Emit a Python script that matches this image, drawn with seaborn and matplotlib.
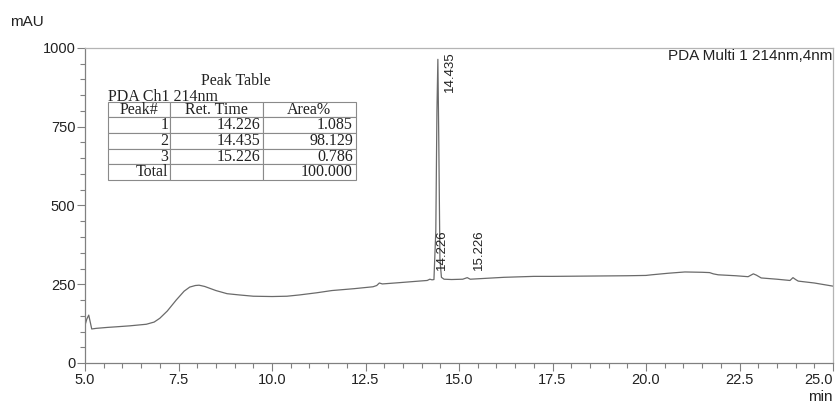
import matplotlib
matplotlib.use("Agg")
import matplotlib.pyplot as plt
import numpy as np
import pandas as pd
import seaborn as sns
from matplotlib.ticker import MultipleLocator

# chromatogram trace (min, mAU)
time_min = [
    5.00, 5.05, 5.10, 5.18, 5.30, 5.60, 5.85, 6.20, 6.64, 6.85, 7.00, 7.20,
    7.44, 7.65, 7.80, 7.95, 8.05, 8.20, 8.50, 8.80, 9.13, 9.50, 10.00, 10.40,
    10.73, 11.20, 11.60, 12.20, 12.70, 12.80, 12.87, 12.95, 13.40, 13.93,
    14.15, 14.22, 14.28, 14.33, 14.38, 14.41, 14.435, 14.46, 14.49, 14.53,
    14.60, 14.80, 15.10, 15.22, 15.30, 15.60, 16.20, 17.00, 17.50, 18.50,
    19.50, 20.00, 20.15, 20.60, 21.04, 21.50, 21.70, 21.80, 21.93, 22.40,
    22.73, 22.87, 22.95, 23.08, 23.50, 23.85, 23.93, 24.00, 24.07, 24.50, 25.00,
]
signal_mau = [
    120, 140, 152, 108, 110, 113, 115, 118, 123, 130, 142, 165,
    200, 228, 241, 246, 247, 243, 230, 220, 216, 212, 211, 212,
    216, 223, 230, 236, 242, 246, 254, 251, 255, 260,
    262, 266, 264, 265, 420, 800, 964, 700, 330, 272,
    266, 265, 266, 271, 266, 268, 272, 275, 275, 276,
    277, 278, 280, 285, 289, 288, 287, 283, 280, 277,
    274, 283, 279, 270, 266, 262, 271, 265, 260, 254, 244,
]

x_ticks = [5.0, 7.5, 10.0, 12.5, 15.0, 17.5, 20.0, 22.5, 25.0]
x_labels = ["5.0", "7.5", "10.0", "12.5", "15.0", "17.5", "20.0", "22.5", "25.0"]
y_ticks = [0, 250, 500, 750, 1000]

peak_times = ["14.226", "14.435", "15.226"]
peak_areas = ["1.085", "98.129", "0.786"]
total_area = "100.000"
# where the retention-time labels sit (min, mAU of their lower end)
label_x = [14.54, 14.76, 15.54]
label_y = [295, 860, 295]

sns.set_style("ticks")
plt.rcParams["font.family"] = ["Liberation Sans", "DejaVu Sans"]

fig = plt.figure(figsize=(8.37, 4.03), dpi=100)
ax = fig.add_axes([85 / 837, 40 / 403, 748 / 837, 315 / 403])

trace = pd.DataFrame({"time": time_min, "mAU": signal_mau})
sns.lineplot(data=trace, x="time", y="mAU", ax=ax, color="#6a6a6a",
             linewidth=0.9, estimator=None, sort=False)

ax.set_xlim(5.0, 25.0)
ax.set_ylim(0, 1000)
ax.set_xticks(x_ticks, x_labels)
ax.set_yticks(y_ticks)
ax.xaxis.set_minor_locator(MultipleLocator(0.5))
ax.yaxis.set_minor_locator(MultipleLocator(50))
ax.tick_params(which="major", direction="out", length=6, width=0.8,
               color="#808080", labelsize=10.5, pad=1, labelcolor="#222222")
ax.tick_params(which="minor", direction="out", length=3.5, width=0.8,
               color="#808080")
ax.set_xlabel("")
ax.set_ylabel("")

# last x label sits flush with the right edge, as in the instrument printout
ax.xaxis.get_major_ticks()[-1].label1.set_horizontalalignment("right")

for side in ["left", "bottom"]:
    ax.spines[side].set_color("#808080")
    ax.spines[side].set_linewidth(0.9)
for side in ["top", "right"]:
    ax.spines[side].set_visible(True)
    ax.spines[side].set_color("#b4b4b4")
    ax.spines[side].set_linewidth(0.9)

for txt, lx, ly in zip(peak_times, label_x, label_y):
    ax.text(lx, ly, txt, rotation=90, ha="center", va="bottom",
            fontsize=9.5, color="#222222")

ax.text(0.999, 0.975, "PDA Multi 1 214nm,4nm", transform=ax.transAxes,
        ha="right", va="center", fontsize=11, color="#222222")
fig.text(10 / 837, 1 - 22 / 403, "mAU", ha="left", va="center",
         fontsize=11, color="#222222")
fig.text(833 / 837, 1 - 397 / 403, "min", ha="right", va="center",
         fontsize=11, color="#222222")

# peak table
serif = ["Liberation Serif", "DejaVu Serif"]
ax.text(0.202, 0.895, "Peak Table", transform=ax.transAxes, ha="center",
        va="center", fontsize=11.5, family=serif, color="#222222")
ax.text(0.031, 0.832, "PDA Ch1 214nm", transform=ax.transAxes, ha="left",
        va="baseline", fontsize=11.5, family=serif, color="#222222")

rows = [[str(i + 1), rt, ar] for i, (rt, ar) in enumerate(zip(peak_times, peak_areas))]
rows.append(["Total", "", total_area])
table = ax.table(cellText=rows, colLabels=["Peak#", "Ret. Time", "Area%"],
                 cellLoc="right", colLoc="center",
                 colWidths=[0.25, 0.375, 0.375],
                 bbox=[0.031, 0.581, 0.331, 0.248])
table.auto_set_font_size(False)
table.set_fontsize(11.5)
for cell in table.get_celld().values():
    cell.set_edgecolor("#8a8a8a")
    cell.set_linewidth(0.8)
    cell.PAD = 0.03
    cell.get_text().set_fontfamily(serif)
    cell.get_text().set_color("#222222")

fig.savefig("out.png", dpi=100)
